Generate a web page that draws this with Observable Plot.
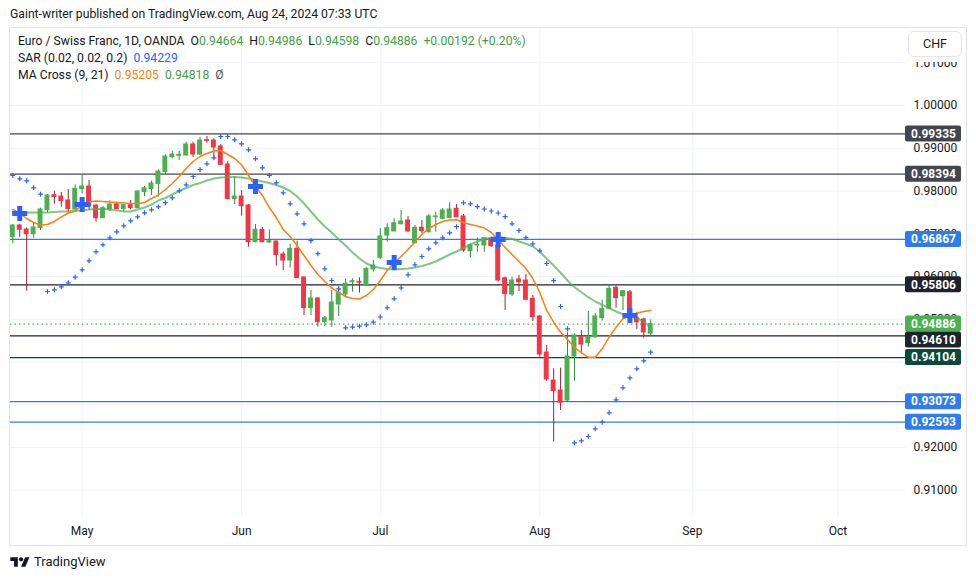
<!DOCTYPE html>
<html><head><meta charset="utf-8">
<script src="https://cdn.jsdelivr.net/npm/d3@7"></script>
<script src="https://cdn.jsdelivr.net/npm/@observablehq/plot@0.6"></script>
<style>
body{margin:0;background:#fff;font-family:"Trebuchet MS",Roboto,"Noto Sans",sans-serif;color:#131722}
#wrap{position:relative;width:976px;height:580px;overflow:hidden;background:#fff}
#hdr{position:absolute;left:10px;top:6px;font-size:12.2px;line-height:16px;white-space:nowrap}
#chart{position:absolute;left:0;top:27px}
#frame{position:absolute;left:9px;top:27px;width:958px;height:519px;border:1px solid #e0e3eb;box-sizing:border-box;pointer-events:none}
#legend{position:absolute;left:18px;top:33px;font-size:12.2px;line-height:17px;white-space:nowrap}
#legend span.g{margin-left:6px}
#chfpad{position:absolute;left:906px;top:56px;width:59px;height:6px;background:#fff}
#chf{position:absolute;left:908px;top:31px;width:54px;height:26px;border:1px solid #e0e3eb;border-radius:6px;background:#fff;box-sizing:border-box;font-size:12.5px;line-height:24px;text-align:center}
#foot{position:absolute;left:10px;top:554px;font-size:13px;line-height:16px;display:flex;align-items:center;gap:4px;color:#131722}
</style></head>
<body>
<div id="wrap">
  <div id="hdr">Gaint-writer published on TradingView.com, Aug 24, 2024 07:33 UTC</div>
  <div id="chart"></div>
  <div id="frame"></div>
  <div id="legend"></div>
  <div id="chfpad"></div>
  <div id="chf">CHF</div>
  <div id="foot"><svg width="20" height="14" viewBox="0 0 36 26"><path d="M14 22H7V11H0V4h14v18zM28 22h-8l7.5-18h8L28 22z" fill="#131722"/><circle cx="20" cy="8" r="4" fill="#131722"/></svg><span>TradingView</span></div>
</div>
<script>
// ---------- data (EUR/CHF daily, OANDA, from 2024-04-17) ----------
const firstDay = "2024-04-17";
const open = [0.96920,0.97193,0.97099,0.96990,0.97138,0.97552,0.97902,0.97871,0.97778,0.97567,
0.98043,0.98105,0.97661,0.97364,0.97567,0.97684,0.97575,0.97669,0.97598,0.97973,
0.98043,0.98167,0.98440,0.98791,0.98823,0.98830,0.99088,0.98854,0.99189,0.99181,
0.99041,0.98620,0.97809,0.97871,0.97661,0.96803,0.97092,0.96795,0.96818,0.96515,
0.96374,0.96647,0.95977,0.95259,0.95485,0.94932,0.94971,0.95345,0.95579,0.95867,
0.95876,0.95789,0.96164,0.96437,0.96959,0.97053,0.97223,0.97310,0.96779,0.97139,
0.97036,0.97387,0.97350,0.97364,0.97584,0.97404,0.96592,0.96725,0.96725,0.96882,
0.96725,0.95960,0.95579,0.95930,0.95906,0.95478,0.95064,0.94222,0.93567,0.93333,
0.93099,0.94129,0.94580,0.94440,0.94580,0.95025,0.95244,0.95736,0.95539,0.95633,
0.95034,0.94994,0.94664];
const high = [0.97210,0.97224,0.97138,0.97255,0.97598,0.97918,0.97996,0.97965,0.98035,0.98144,
0.98363,0.98246,0.97676,0.97637,0.97770,0.97739,0.97692,0.97778,0.98004,0.98105,
0.98230,0.98495,0.98846,0.98924,0.98924,0.99142,0.99142,0.99259,0.99275,0.99220,
0.99088,0.98690,0.98339,0.98012,0.97684,0.97216,0.97146,0.97092,0.96826,0.96569,
0.96756,0.96826,0.95984,0.95673,0.95509,0.95064,0.95673,0.95750,0.95946,0.95946,
0.95970,0.96203,0.96374,0.97116,0.97233,0.97350,0.97544,0.97404,0.97193,0.97310,
0.97450,0.97504,0.97584,0.97724,0.97684,0.97450,0.96765,0.96896,0.96910,0.96919,
0.96765,0.95984,0.95984,0.96023,0.96047,0.95556,0.95088,0.94386,0.93841,0.93855,
0.94697,0.94659,0.94737,0.95181,0.95127,0.95439,0.95806,0.95773,0.95673,0.95673,
0.95165,0.95025,0.94986];
const low = [0.96765,0.96920,0.95657,0.96896,0.97076,0.97490,0.97692,0.97622,0.97490,0.97520,
0.97934,0.97544,0.97271,0.97357,0.97520,0.97560,0.97513,0.97567,0.97590,0.97864,
0.97895,0.97856,0.98378,0.98752,0.98713,0.98823,0.98784,0.98830,0.99119,0.98752,
0.98596,0.97801,0.97684,0.97411,0.96686,0.96788,0.96795,0.96780,0.96242,0.96140,
0.96195,0.95953,0.95088,0.95088,0.94815,0.94830,0.94814,0.95064,0.95502,0.95633,
0.95609,0.95773,0.96101,0.96398,0.96802,0.97053,0.97209,0.97036,0.96765,0.96999,
0.97013,0.97036,0.97326,0.97350,0.97387,0.96568,0.96428,0.96568,0.96568,0.96685,
0.95867,0.95205,0.95532,0.95649,0.95439,0.94947,0.94112,0.93544,0.92124,0.92865,
0.93060,0.93551,0.94229,0.94346,0.94557,0.94954,0.95228,0.95258,0.95205,0.94947,
0.94760,0.94557,0.94598];
const close = [0.97193,0.97092,0.96990,0.97146,0.97567,0.97895,0.97856,0.97762,0.97575,0.98051,
0.98105,0.97637,0.97364,0.97598,0.97684,0.97575,0.97669,0.97598,0.97988,0.98066,
0.98175,0.98456,0.98807,0.98854,0.98846,0.99088,0.98854,0.99181,0.99173,0.99018,
0.98612,0.97809,0.97871,0.97645,0.96803,0.97092,0.96803,0.96826,0.96499,0.96374,
0.96647,0.95961,0.95259,0.95485,0.94932,0.95025,0.95392,0.95619,0.95829,0.95890,
0.95853,0.96180,0.96257,0.96936,0.97130,0.97247,0.97287,0.97053,0.97139,0.97060,
0.97404,0.97404,0.97544,0.97567,0.97387,0.96608,0.96725,0.96741,0.96896,0.96709,
0.95906,0.95586,0.95906,0.95867,0.95455,0.95048,0.94175,0.93591,0.93317,0.93046,
0.94129,0.94620,0.94409,0.94580,0.95064,0.95244,0.95712,0.95492,0.95656,0.95025,
0.94931,0.94694,0.94886];
const ma9 = [0.97567,0.97474,0.97357,0.97263,0.97205,0.97216,0.97287,0.97392,0.97485,0.97525,
0.97684,0.97743,0.97766,0.97754,0.97743,0.97731,0.97719,0.97708,0.97708,0.97731,
0.97825,0.97906,0.98035,0.98175,0.98339,0.98526,0.98690,0.98807,0.98877,0.98936,
0.98947,0.98854,0.98760,0.98608,0.98363,0.98105,0.97895,0.97614,0.97380,0.97099,
0.96936,0.96725,0.96491,0.96257,0.96047,0.95883,0.95731,0.95626,0.95532,0.95485,
0.95474,0.95556,0.95696,0.95906,0.96140,0.96327,0.96468,0.96632,0.96807,0.96982,
0.97123,0.97216,0.97287,0.97322,0.97326,0.97263,0.97216,0.97181,0.97135,0.97029,
0.96865,0.96678,0.96515,0.96351,0.96187,0.95953,0.95626,0.95205,0.94931,0.94697,
0.94526,0.94346,0.94215,0.94112,0.94112,0.94309,0.94580,0.94814,0.95011,0.95088,
0.95142,0.95181,0.95205];
const ma21 = [0.97509,0.97504,0.97497,0.97497,0.97497,0.97497,0.97509,0.97520,0.97520,0.97537,
0.97544,0.97567,0.97579,0.97579,0.97567,0.97544,0.97520,0.97520,0.97567,0.97614,
0.97684,0.97778,0.97836,0.97918,0.98000,0.98070,0.98140,0.98187,0.98246,0.98292,
0.98316,0.98323,0.98327,0.98316,0.98292,0.98257,0.98222,0.98187,0.98140,0.98082,
0.98000,0.97871,0.97708,0.97520,0.97333,0.97170,0.97029,0.96865,0.96725,0.96561,
0.96421,0.96304,0.96234,0.96199,0.96175,0.96164,0.96175,0.96187,0.96211,0.96246,
0.96292,0.96351,0.96433,0.96515,0.96585,0.96667,0.96749,0.96819,0.96877,0.96905,
0.96924,0.96905,0.96882,0.96819,0.96765,0.96702,0.96585,0.96414,0.96257,0.96087,
0.95906,0.95750,0.95633,0.95516,0.95415,0.95338,0.95259,0.95181,0.95118,0.95071,
0.95030,0.94940,0.94818];
const sar = [0.98363,0.98285,0.98239,0.98075,0.97925,0.95649,0.95689,0.95759,0.95853,0.95984,
0.96157,0.96367,0.96578,0.96741,0.96905,0.97046,0.97186,0.97303,0.97396,0.97490,
0.97560,0.97630,0.97726,0.97841,0.98005,0.98145,0.98339,0.98503,0.98636,0.98777,
0.99275,0.99275,0.99198,0.99104,0.98964,0.98753,0.98543,0.98363,0.98192,0.97958,
0.97701,0.97467,0.97233,0.96837,0.96533,0.96180,0.95906,0.95712,0.94800,0.94818,
0.94838,0.94870,0.94931,0.95053,0.95268,0.95478,0.95736,0.96040,0.96274,0.96468,
0.96648,0.96788,0.96905,0.97022,0.97165,0.97724,0.97701,0.97633,0.97579,0.97532,
0.97485,0.97399,0.97233,0.97076,0.96908,0.96765,0.96601,0.96304,0.95902,0.95298,
0.94777,0.92110,0.92157,0.92257,0.92437,0.92592,0.92812,0.93116,0.93397,0.93630,
0.93841,0.94028,0.94229];
// horizontal price levels drawn on the chart
const levels = [0.99335, 0.98394, 0.96867, 0.95806, 0.94610, 0.94104, 0.93073, 0.92593];
const yTicks = [0.91, 0.92, 0.93, 0.94, 0.95, 0.96, 0.97, 0.98, 0.99, 1.00, 1.01];

// ---------- styles ----------
const levelColors = ["#434651", "#434651", "#2f7cf2", "#1e222d", "#1e222d", "#0b4a39", "#2f7cf2", "#2f7cf2"];
const UP = "#4caf50", DOWN = "#f23645", UPW = "#2e8b3a", DOWNW = "#a81f30";

// ---------- calendar (trading weekdays) ----------
const days = [];
for (let d = new Date(firstDay + "T00:00:00Z"); days.length < 150; d = new Date(d.getTime() + 864e5)) {
  const wd = d.getUTCDay();
  if (wd !== 0 && wd !== 6) days.push(d);
}
const bars = close.map((c, i) => ({i, date: days[i], o: open[i], h: high[i], l: low[i], c, ma9: ma9[i], ma21: ma21[i], sar: sar[i]}));

// ---------- geometry ----------
const W = 976, H = 518, ML = 10, MR = 71, MT = 0, MB = 28;
const barPx = 6.934, firstBarPx = 12.3;
const xDomain = [(ML - firstBarPx) / barPx, (W - MR - firstBarPx) / barPx];
const yDomain = [0.903626, 1.018246];
const pxPerUnit = (H - MT - MB) / (yDomain[1] - yDomain[0]);

const monthTicks = days.map((d, i) => i).filter(i => i > 0 && days[i].getUTCMonth() !== days[i - 1].getUTCMonth() && i <= xDomain[1]);
const monthFmt = d3.utcFormat("%b");

const crosses = bars.filter((b, i) => i > 0 && Math.sign(b.ma9 - b.ma21) !== Math.sign(bars[i - 1].ma9 - bars[i - 1].ma21));

const last = bars[bars.length - 1], prev = bars[bars.length - 2];
const levelRows = levels.map((v, k) => ({v, color: levelColors[k]}));
const labelRows = [...levelRows, {v: last.c, color: UP}].sort((a, b) => b.v - a.v);
const hVal = 16 / pxPerUnit;
labelRows.forEach((r, k) => {
  r.pos = r.v;
  if (k > 0 && labelRows[k - 1].pos - r.pos < hVal) r.pos = labelRows[k - 1].pos - hVal;
});
// tick labels that sit fully under a price label are not visible on the chart
const shownTicks = yTicks.filter(t => !labelRows.some(r => Math.abs(r.pos - t) * pxPerUnit < 4.6));
const f5 = d3.format(".5f");
const xMax = () => xDomain[1];

const chart = Plot.plot({
  width: W, height: H, marginLeft: ML, marginRight: MR, marginTop: MT, marginBottom: MB,
  style: {fontFamily: '"Trebuchet MS", Roboto, sans-serif', color: "#131722", background: "transparent"},
  x: {type: "linear", domain: xDomain, label: null},
  y: {type: "linear", domain: yDomain, label: null},
  marks: [
    Plot.gridY({ticks: yTicks, stroke: "#f0f3fa", strokeOpacity: 1}),
    Plot.gridX({ticks: monthTicks, stroke: "#f0f3fa", strokeOpacity: 1}),
    Plot.ruleY(levelRows, {y: "v", stroke: "color", strokeWidth: 1.2}),
    Plot.ruleY([last], {y: "c", stroke: UP, strokeWidth: 1.2, strokeDasharray: "1.5,3"}),
    Plot.ruleX(bars, {x: "i", y1: "l", y2: "h", stroke: d => d.c >= d.o ? UPW : DOWNW, strokeWidth: 1, clip: "frame"}),
    Plot.rect(bars, {x1: d => d.i - 0.5, x2: d => d.i + 0.5, y1: "o", y2: "c", insetLeft: 1, insetRight: 1, insetTop: -0.5, insetBottom: -0.5,
      fill: d => d.c >= d.o ? UP : DOWN, clip: "frame"}),
    Plot.line(bars, {x: "i", y: "ma21", stroke: "#4caf50", strokeOpacity: 0.7, strokeWidth: 2, clip: "frame"}),
    Plot.line(bars, {x: "i", y: "ma9", stroke: "#ff7f0e", strokeWidth: 1.5, clip: "frame"}),
    Plot.dot(bars, {x: "i", y: "sar", symbol: "plus", r: 1.7, stroke: "#2962ff", strokeWidth: 1.2, clip: "frame"}),
    Plot.dot(crosses, {x: "i", y: "ma9", symbol: "cross", r: 6.3, fill: "#2962ff", stroke: "none", clip: "frame"}),
    Plot.axisX({ticks: monthTicks, tickSize: 0, tickPadding: 9, tickFormat: i => monthFmt(days[i]), fontSize: 12, label: null}),
    Plot.axisY({anchor: "right", ticks: shownTicks, tickSize: 0, tickPadding: 8, tickFormat: f5, fontSize: 12, label: null}),
    Plot.rect(labelRows, {x1: xMax, x2: xMax, y1: "pos", y2: "pos", insetLeft: 0, insetRight: -56, insetTop: -8, insetBottom: -8, fill: "color", rx: 2}),
    Plot.text(labelRows, {x: xMax, y: "pos", text: d => f5(d.v), dx: 28, fill: "white", fontWeight: "bold", fontSize: 12})
  ]
});
document.getElementById("chart").appendChild(chart);

// ---------- legend ----------
const chg = last.c - prev.c, pct = chg / prev.c * 100;
const G = "#43a047";
const sgn = v => (v >= 0 ? "+" : "");
document.getElementById("legend").innerHTML =
  `<div>Euro / Swiss Franc, 1D, OANDA<span class="g">O<span style="color:${G}">${f5(last.o)}</span></span>` +
  `<span class="g">H<span style="color:${G}">${f5(last.h)}</span></span>` +
  `<span class="g">L<span style="color:${G}">${f5(last.l)}</span></span>` +
  `<span class="g">C<span style="color:${G}">${f5(last.c)}</span></span>` +
  `<span class="g" style="color:${G}">${sgn(chg)}${f5(chg)} (${sgn(pct)}${pct.toFixed(2)}%)</span></div>` +
  `<div>SAR (0.02, 0.02, 0.2)<span class="g" style="color:#2962ff">${f5(last.sar)}</span></div>` +
  `<div>MA Cross (9, 21)<span class="g" style="color:#ff7f0e">${f5(last.ma9)}</span>` +
  `<span class="g" style="color:${G}">${f5(last.ma21)}</span><span class="g" style="color:#555">Ø</span></div>`;
</script>
</body></html>
